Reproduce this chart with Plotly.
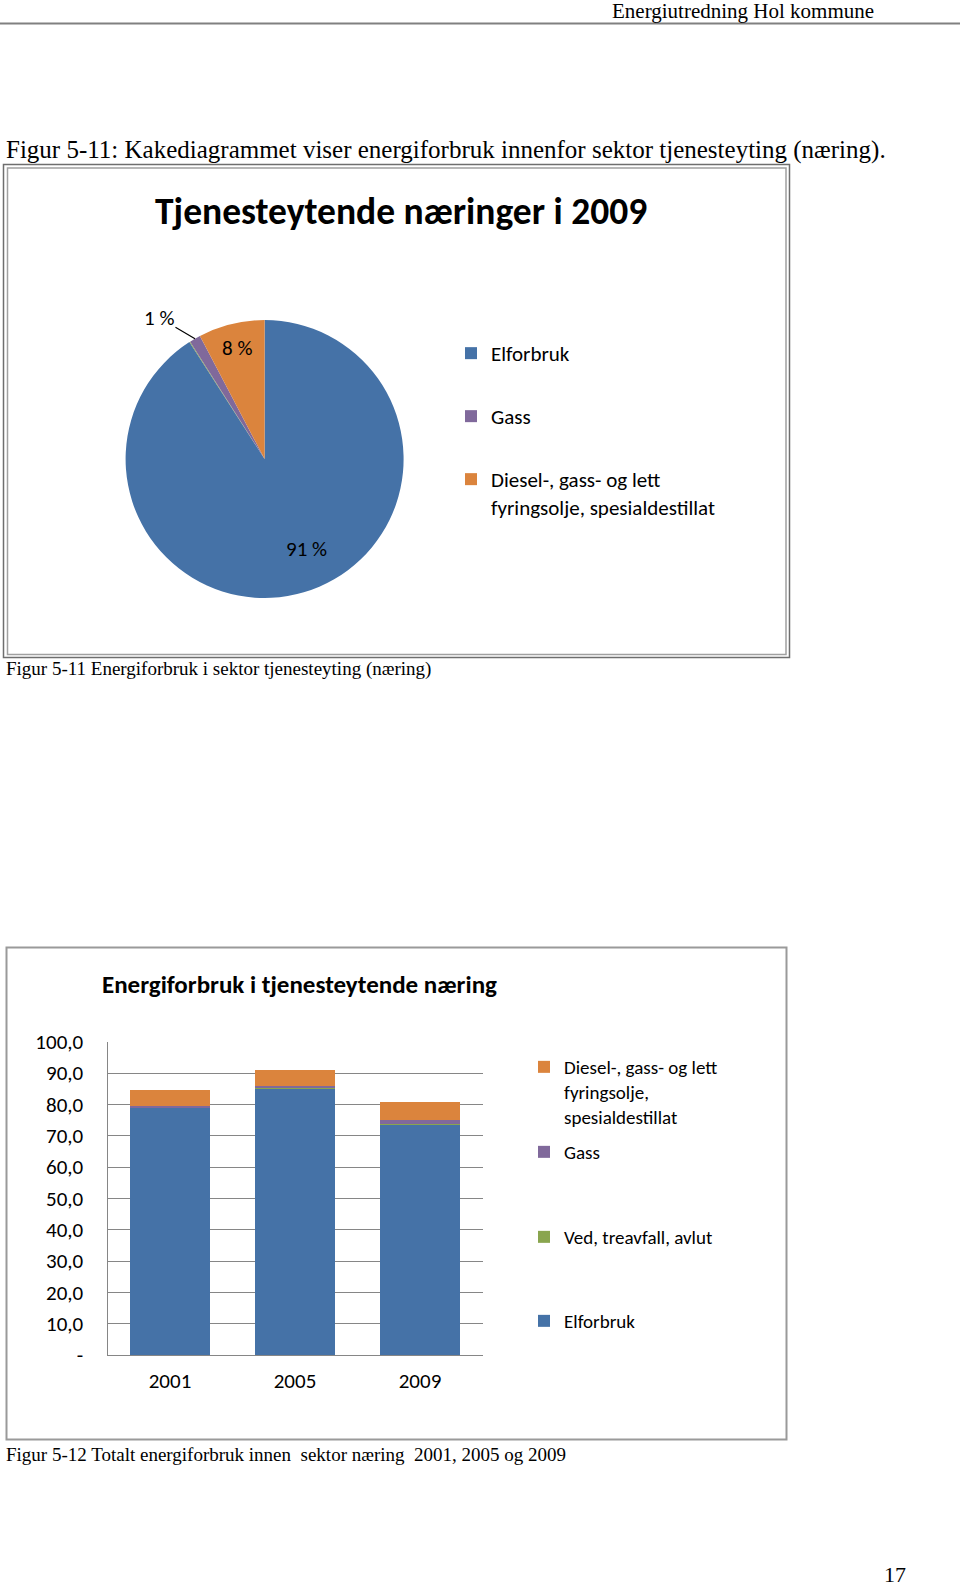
import math
import plotly.graph_objects as go

W, H = 960, 1589

# ---------------- data ----------------
pie_title = "Tjenesteytende næringer i 2009"
pie_labels = ["Elforbruk", "Ved, treavfall, avlut", "Gass",
              "Diesel-, gass- og lett fyringsolje, spesialdestillat"]
pie_values = [90.9, 0.1, 1.3, 7.7]
pie_legend_labels = ["Elforbruk", "Gass", "Diesel-, gass- og lett<br>fyringsolje, spesialdestillat"]

bar_title = "Energiforbruk i tjenesteytende næring"
years = ["2001", "2005", "2009"]
elforbruk = [79.0, 85.3, 73.7]
ved = [0.1, 0.1, 0.1]
gass = [0.4, 0.5, 1.2]
diesel = [5.2, 5.2, 5.8]
bar_names = ["Elforbruk", "Ved, treavfall, avlut", "Gass",
             "Diesel-, gass- og lett<br>fyringsolje,<br>spesialdestillat"]
y_tickvals = [0, 10, 20, 30, 40, 50, 60, 70, 80, 90, 100]
y_ticktext = ["-", "10,0", "20,0", "30,0", "40,0", "50,0", "60,0", "70,0", "80,0", "90,0", "100,0"]

header_text = "Energiutredning Hol kommune"
caption_top = "Figur 5-11: Kakediagrammet viser energiforbruk innenfor sektor tjenesteyting (næring)."
caption_pie = "Figur 5-11 Energiforbruk i sektor tjenesteyting (næring)"
caption_bar = "Figur 5-12 Totalt energiforbruk innen \u00a0sektor næring \u00a02001, 2005 og 2009"
page_no = "17"

# ---------------- styles ----------------
C_EL, C_VED, C_GASS, C_DIESEL = "#4572A7", "#89A54E", "#80699B", "#DB843D"
pie_colors = [C_EL, C_VED, C_GASS, C_DIESEL]
SANS = "Carlito, Lato, sans-serif"
SERIF = "Liberation Serif, Times New Roman, serif"


def px(x):
    return x / W


def py(y):
    return 1 - y / H


fig = go.Figure()

# ---------------- pie ----------------
CX, CY, R = 264.6, 459.0, 139.0
total = sum(pie_values)
fig.add_trace(go.Pie(
    labels=pie_labels, values=pie_values, sort=False, direction="clockwise", rotation=0,
    marker=dict(colors=pie_colors, line=dict(width=0)),
    textinfo="none",
    domain=dict(x=[px(CX - R), px(CX + R)], y=[py(CY + R), py(CY - R)]),
    showlegend=False, hoverinfo="label+percent",
))

# percentage labels, placed on each slice's bisector
cum = 0.0
for lab, v in zip(pie_labels, pie_values):
    frac0 = cum / total
    cum += v
    frac1 = cum / total
    share = v / total
    ang = (frac0 + frac1) / 2 * 2 * math.pi
    txt = f"{round(share * 100)} %"
    if share >= 0.05:
        big = share > 0.5
        rf = 0.72 if big else 0.82
        lx = CX + rf * R * math.sin(ang)
        ly = CY - rf * R * math.cos(ang)
        fig.add_annotation(x=px(lx), y=py(ly), xref="paper", yref="paper", text=txt,
                           showarrow=False, xanchor="center", yanchor="middle",
                           xshift=14 if big else 0, yshift=6 if big else 0,
                           font=dict(family=SANS, size=21, color="#000000"))
    elif share >= 0.01:
        tipx = CX + R * math.sin(ang)
        tipy = CY - R * math.cos(ang)
        fig.add_annotation(x=px(tipx), y=py(tipy), xref="paper", yref="paper", text=txt,
                           showarrow=True, arrowhead=0, arrowwidth=1.2, arrowcolor="#000000",
                           ax=-36, ay=-21, standoff=0,
                           font=dict(family=SANS, size=21, color="#000000"))

# legend entries for the pie (one legend each to reproduce spacing)
pie_leg_colors = [C_EL, C_GASS, C_DIESEL]
pie_leg_y = [350, 413, 476]
for i, (name, col) in enumerate(zip(pie_legend_labels, pie_leg_colors)):
    lid = "legend" if i == 0 else f"legend{i + 1}"
    fig.add_trace(go.Scatter(x=[None], y=[None], mode="markers", name=name,
                             marker=dict(symbol="square", size=12, color=col),
                             legend=lid, showlegend=True, hoverinfo="skip"))

# ---------------- bars ----------------
bar_series = [elforbruk, ved, gass, diesel]
bar_colors = [C_EL, C_VED, C_GASS, C_DIESEL]
bar_leg_y = [1318, 1234, 1149, 1064]
for i, (name, vals, col) in enumerate(zip(bar_names, bar_series, bar_colors)):
    fig.add_trace(go.Bar(x=years, y=vals, name=name, marker=dict(color=col, line=dict(width=0)),
                         legend=f"legend{4 + i}", showlegend=True))

fig.update_layout(
    barmode="stack", bargap=0.36,
    xaxis=dict(domain=[px(107.5), px(482.5)], type="category", showline=True, linecolor="#868686",
               linewidth=1.2, ticks="", showgrid=False, tickfont=dict(family=SANS, size=21, color="#000"),
               ticklabelstandoff=7, fixedrange=True),
    yaxis=dict(domain=[py(1355), py(1041.7)], range=[0, 100], tickvals=y_tickvals, ticktext=y_ticktext,
               showline=True, linecolor="#868686", linewidth=1.2, showgrid=True, gridcolor="#868686",
               gridwidth=1.2, zeroline=False, ticks="", tickfont=dict(family=SANS, size=21, color="#000"),
               ticklabelstandoff=19, fixedrange=True),
)

# ---------------- legends ----------------
legend_common = dict(bgcolor="rgba(0,0,0,0)", borderwidth=0, valign="top", xanchor="left",
                     yanchor="top", itemclick=False, itemdoubleclick=False, orientation="v")
for i, yc in enumerate(pie_leg_y):
    key = "legend" if i == 0 else f"legend{i + 1}"
    fig.layout[key] = dict(legend_common, x=px(451), y=py(yc - 17),
                           font=dict(family=SANS, size=21, color="#000"))
for i, yc in enumerate(bar_leg_y):
    key = f"legend{4 + i}"
    fig.layout[key] = dict(legend_common, x=px(524), y=py(yc - 16),
                           font=dict(family=SANS, size=19, color="#000"))

# ---------------- titles & document text ----------------
fig.add_annotation(x=px(400.5), y=py(211), xref="paper", yref="paper", text=f"<b>{pie_title}</b>",
                   showarrow=False, xanchor="center", yanchor="middle",
                   font=dict(family=SANS, size=37.5, color="#000"))
fig.add_annotation(x=px(100), y=py(984), xref="paper", yref="paper", text=f"<b>{bar_title}</b>",
                   showarrow=False, xanchor="left", yanchor="middle",
                   font=dict(family=SANS, size=25, color="#000"))

doc_texts = [
    (header_text, 876, 11, "right", 21),
    (caption_top, 4, 150, "left", 25),
    (caption_pie, 4, 669, "left", 19),
    (caption_bar, 4, 1454, "left", 19),
    (page_no, 895, 1574, "center", 22),
]
for t, x, y, anc, sz in doc_texts:
    fig.add_annotation(x=px(x), y=py(y), xref="paper", yref="paper", text=t, showarrow=False,
                       xanchor=anc, yanchor="middle", font=dict(family=SERIF, size=sz, color="#000"))

# ---------------- frames ----------------
shapes = [
    dict(type="line", xref="paper", yref="paper", x0=0, x1=1, y0=py(23.5), y1=py(23.5),
         line=dict(color="#808080", width=2)),
    dict(type="rect", xref="paper", yref="paper", x0=px(3.5), x1=px(789.5), y0=py(657.5), y1=py(164.5),
         line=dict(color="#6e6e6e", width=1.5)),
    dict(type="rect", xref="paper", yref="paper", x0=px(7.5), x1=px(786), y0=py(654.5), y1=py(168),
         line=dict(color="#a0a0a0", width=1.5)),
    dict(type="rect", xref="paper", yref="paper", x0=px(6.5), x1=px(786.5), y0=py(1439.5), y1=py(947.5),
         line=dict(color="#9a9a9a", width=2)),
]
fig.update_layout(shapes=shapes, width=W, height=H,
                  margin=dict(l=0, r=0, t=0, b=0, pad=0, autoexpand=False),
                  paper_bgcolor="white", plot_bgcolor="white", showlegend=True)

fig.write_html("out.html", config={"displayModeBar": False},
               post_script="document.body.style.margin='0';document.body.style.overflow='hidden';")
